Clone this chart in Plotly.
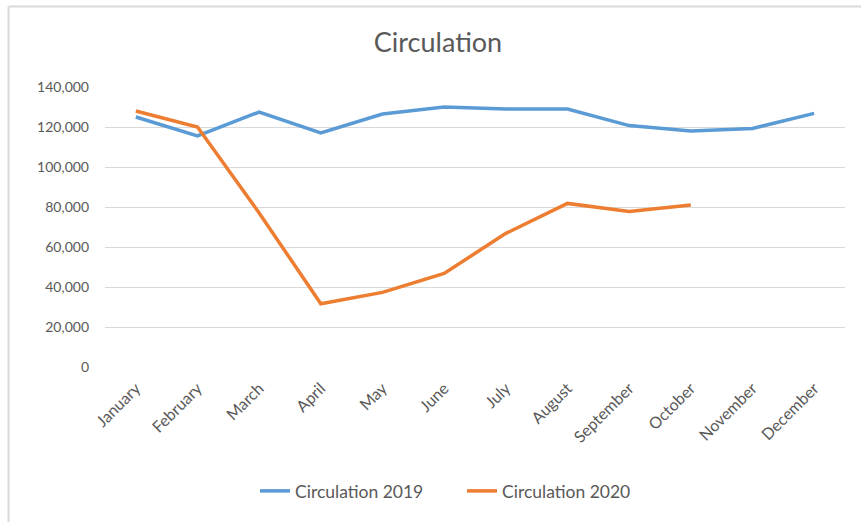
import plotly.graph_objects as go

months = ["January", "February", "March", "April", "May", "June", "July",
          "August", "September", "October", "November", "December"]
circ_2019 = [125000, 115500, 127500, 117000, 126500, 130000, 129000,
             129000, 120700, 118000, 119300, 126800]
circ_2020 = [128000, 120000, 77000, 31600, 37300, 46800, 66800,
             81800, 77700, 81000]
yticks = [0, 20000, 40000, 60000, 80000, 100000, 120000, 140000]

FONT = "Lato, 'Open Sans', sans-serif"
TXT = "#595959"

fig = go.Figure()
fig.add_trace(go.Scatter(x=months, y=circ_2019, mode="lines", name="Circulation 2019",
                         line=dict(color="#5B9BD5", width=3.5)))
fig.add_trace(go.Scatter(x=months[:len(circ_2020)], y=circ_2020, mode="lines",
                         name="Circulation 2020",
                         line=dict(color="#ED7D31", width=3.5)))

L, R, T, B = 105, 16, 87, 155
W, H = 861, 522
pw, ph = W - L - R, H - T - B
px = lambda x: (x - L) / pw
py = lambda y: (H - B - y) / ph

fig.update_layout(
    width=W, height=H,
    margin=dict(l=L, r=R, t=T, b=B),
    paper_bgcolor="white", plot_bgcolor="white",
    font=dict(family=FONT, color=TXT, size=14),
    title=dict(text="Circulation", x=438 / W, y=1 - 43 / H, xanchor="center",
               yanchor="middle", font=dict(size=27, color=TXT, family=FONT)),
    showlegend=True,
    legend=dict(orientation="h", x=px(255), y=py(491), xanchor="left",
                yanchor="middle", font=dict(size=17.5, color=TXT),
                entrywidth=162, entrywidthmode="pixels", itemwidth=30,
                bgcolor="rgba(0,0,0,0)"),
    xaxis=dict(type="category", categoryorder="array", categoryarray=months,
               range=[-0.5, 11.5], tickangle=-45, showgrid=False, showline=False,
               ticks="", ticklabelstandoff=8, tickfont=dict(size=16, color=TXT),
               fixedrange=True),
    yaxis=dict(range=[0, 140000], tickvals=yticks, tickformat=",",
               showgrid=True, gridcolor="#D9D9D9", gridwidth=1, zeroline=False,
               showline=False, ticks="", ticklen=0, ticklabelstandoff=15,
               tickfont=dict(size=14, color=TXT), fixedrange=True),
    shapes=[
        dict(type="line", xref="paper", yref="paper", x0=px(8.5), x1=px(8.5),
             y0=py(6.5), y1=py(W), line=dict(color="#D9D9D9", width=2)),
        dict(type="line", xref="paper", yref="paper", x0=px(8.5), x1=px(W + 5),
             y0=py(6.5), y1=py(6.5), line=dict(color="#D9D9D9", width=2)),
    ],
)

fig.write_html("out.html", config={"displayModeBar": False},
               post_script="document.body.style.margin='0';document.body.style.overflow='hidden';")
